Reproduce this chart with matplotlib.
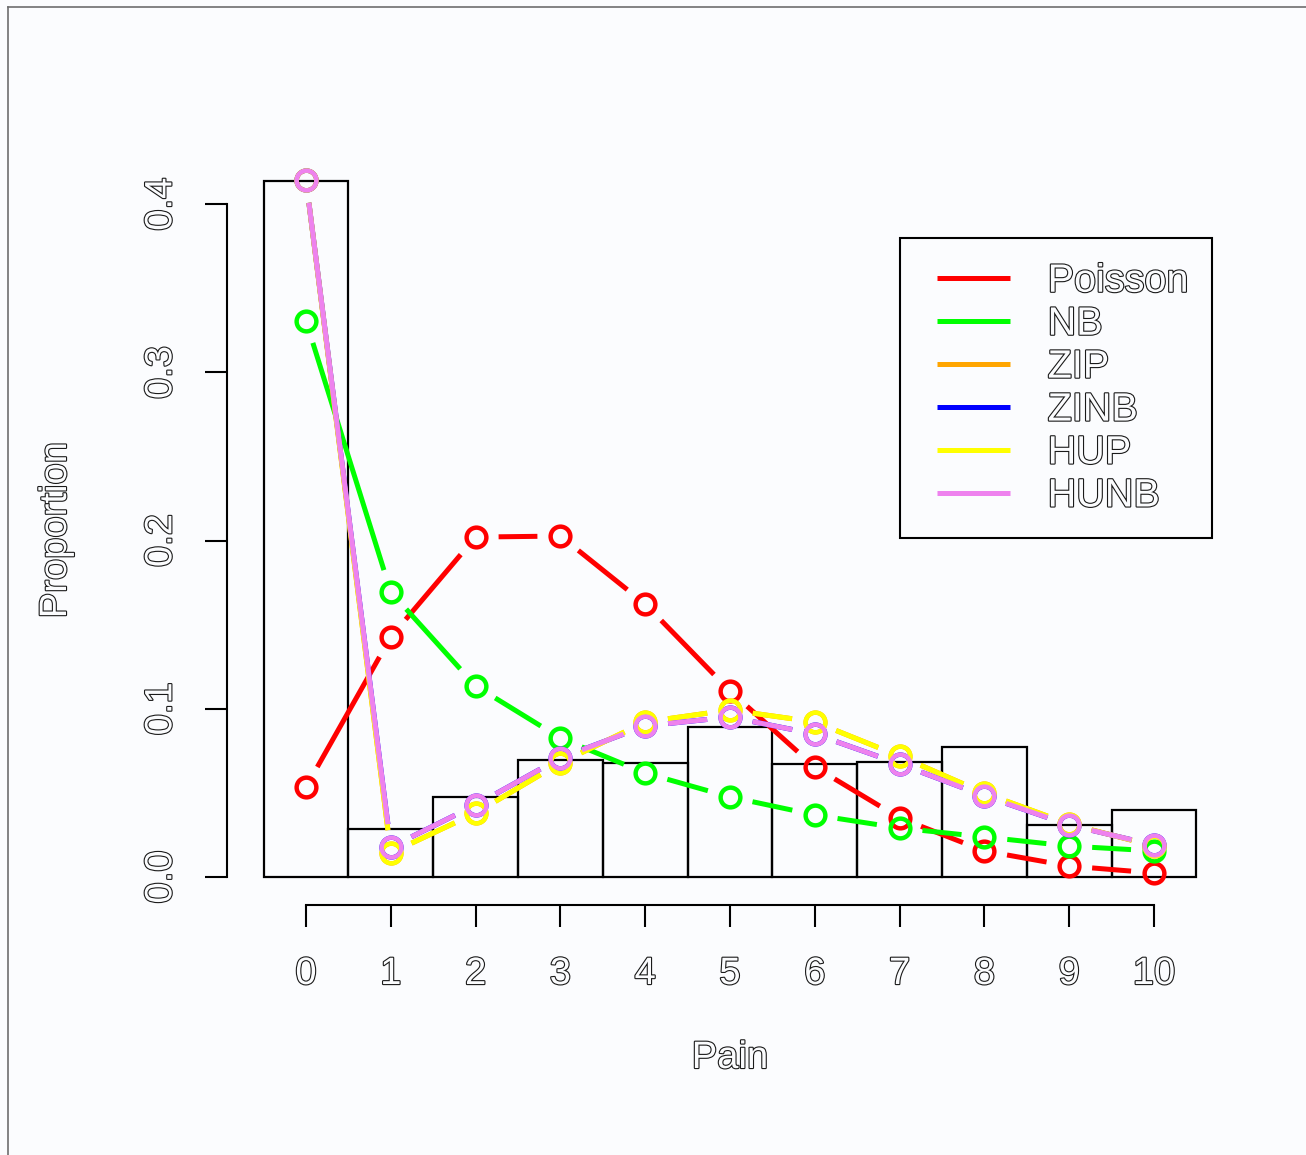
import numpy as np
import matplotlib
matplotlib.use("Agg")
import matplotlib.pyplot as plt
from matplotlib import patheffects as pe
from matplotlib.lines import Line2D
from matplotlib.legend_handler import HandlerLine2D

# ---------------- data ----------------
pain = list(range(11))
observed = [0.4138, 0.0285, 0.0476, 0.0696, 0.0678, 0.0892, 0.0672, 0.0684, 0.0773, 0.0309, 0.0398]
poisson = [0.0535, 0.1427, 0.2021, 0.2027, 0.1623, 0.1106, 0.0654, 0.0351, 0.0155, 0.0065, 0.0024]
nb      = [0.3306, 0.1694, 0.1136, 0.0826, 0.0618, 0.0476, 0.0369, 0.0291, 0.0238, 0.0184, 0.0155]
zip_    = [0.4144, 0.0143, 0.0380, 0.0678, 0.0922, 0.0993, 0.0922, 0.0719, 0.0499, 0.0315, 0.0184]
zinb    = [0.4144, 0.0178, 0.0428, 0.0708, 0.0898, 0.0951, 0.0850, 0.0672, 0.0482, 0.0309, 0.0190]
hup     = [0.4144, 0.0143, 0.0380, 0.0678, 0.0922, 0.0993, 0.0922, 0.0719, 0.0499, 0.0315, 0.0184]
hunb    = [0.4144, 0.0178, 0.0428, 0.0708, 0.0898, 0.0951, 0.0850, 0.0672, 0.0482, 0.0309, 0.0190]
series_names = ["Poisson", "NB", "ZIP", "ZINB", "HUP", "HUNB"]
series_colors = ["#ff0000", "#00ff00", "#ffa500", "#0000ff", "#ffff00", "#ee82ee"]
yticks = [0.0, 0.1, 0.2, 0.3, 0.4]
ytick_labels = ["0.0", "0.1", "0.2", "0.3", "0.4"]
x_label = "Pain"
y_label = "Proportion"

# ---------------- style ----------------
BG = "#fbfcfe"
FS = 27.5
FS_LEG = 28.5
plt.rcParams['font.family'] = ['Liberation Sans', 'DejaVu Sans']
outline = [pe.withStroke(linewidth=1.6, foreground="#1a1a1a")]

W, H = 1306, 1155
fig = plt.figure(figsize=(W / 100, H / 100), dpi=100, facecolor=BG)

# axes placement (pixel based)
x0px, x1px = 221.2, 1238.8
ytop_px, ybot_px = 120.1, 927.46
ax = fig.add_axes([x0px / W, 1 - ybot_px / H, (x1px - x0px) / W, (ybot_px - ytop_px) / H])
ax.set_facecolor(BG)
ax.patch.set_alpha(0)
ax.set_xlim(-1, 11)
ax.set_ylim(-0.03, 0.45)

# bars
ax.bar(pain, observed, width=1.0, fill=False, edgecolor="black", linewidth=1.6, zorder=2)

# series with R type="b" style gaps
GAP = 23
def draw_series(xs, ys, color):
    pts = ax.transData.transform(np.column_stack([xs, ys]))
    inv = ax.transData.inverted()
    for p, q in zip(pts[:-1], pts[1:]):
        d = q - p
        L = np.hypot(d[0], d[1])
        if L <= 2 * GAP:
            continue
        u = d / L
        a = inv.transform(p + u * GAP)
        b = inv.transform(q - u * GAP)
        ax.plot([a[0], b[0]], [a[1], b[1]], color=color, lw=3.6,
                solid_capstyle="butt", zorder=3)
    ax.plot(xs, ys, ls="none", marker="o", ms=14.2, mfc="none", mec=color,
            mew=3.2, zorder=3)

for vals, col in zip([poisson, nb, zip_, zinb, hup, hunb], series_colors):
    draw_series(pain, vals, col)

# axes / spines
for s in ("top", "right"):
    ax.spines[s].set_visible(False)
ax.spines["left"].set_position(("data", -0.9316))
ax.spines["left"].set_bounds(0, 0.4)
ax.spines["bottom"].set_position(("data", -0.0166))
ax.spines["bottom"].set_bounds(0, 10)
for s in ("left", "bottom"):
    ax.spines[s].set_linewidth(1.5)
ax.set_xticks(pain)
ax.set_xticklabels([str(p) for p in pain])
ax.set_yticks(yticks)
ax.set_yticklabels(ytick_labels, rotation=90, va="center")
ax.tick_params(axis="both", direction="out", length=15.8, width=1.5,
               labelsize=FS, labelcolor=BG)
ax.tick_params(axis="x", pad=21)
ax.tick_params(axis="y", pad=18.5)
for t in ax.get_xticklabels() + ax.get_yticklabels():
    t.set_path_effects(outline)

ax.set_xlabel(x_label, fontsize=FS, color=BG, va="center", ha="center")
ax.xaxis.set_label_coords(730 / W, 1 - 1058 / H, transform=fig.transFigure)
ax.xaxis.label.set_path_effects(outline)
ax.set_ylabel(y_label, fontsize=FS, color=BG, va="center", ha="center")
ax.yaxis.set_label_coords(56 / W, 1 - 530 / H, transform=fig.transFigure)
ax.yaxis.label.set_path_effects(outline)

# legend
class InsetLineHandler(HandlerLine2D):
    def __init__(self, inset_frac, **kw):
        super().__init__(**kw)
        self.inset_frac = inset_frac

    def get_xdata(self, legend, xdescent, ydescent, width, height, fontsize):
        xa = -xdescent + width * self.inset_frac
        xb = -xdescent + width
        return np.array([xa, xb]), np.array([xa, xb])

handles = [Line2D([], [], color=c, lw=3.6, solid_capstyle="butt") for c in series_colors]
leg = ax.legend(handles, series_names, loc="upper left",
                bbox_to_anchor=(900 / W, 1 - 238 / H), bbox_transform=fig.transFigure,
                borderaxespad=0, prop={"size": FS_LEG}, labelspacing=0.125,
                handlelength=2.17, handletextpad=0.96, borderpad=0.6,
                fancybox=False, framealpha=1, facecolor=BG, edgecolor="black",
                handler_map={Line2D: InsetLineHandler(13 / 86)})
leg.get_frame().set_linewidth(1.5)
for t in leg.get_texts():
    t.set_color(BG)
    t.set_path_effects(outline)

# outer border (top and left visible)
fig.add_artist(Line2D([8 / W, 8 / W], [0, 1 - 7 / H], transform=fig.transFigure,
                      color="#6e6e6e", lw=1.2))
fig.add_artist(Line2D([8 / W, 1], [1 - 7 / H, 1 - 7 / H], transform=fig.transFigure,
                      color="#6e6e6e", lw=1.2))

fig.savefig("out.png", dpi=100, facecolor=BG)
